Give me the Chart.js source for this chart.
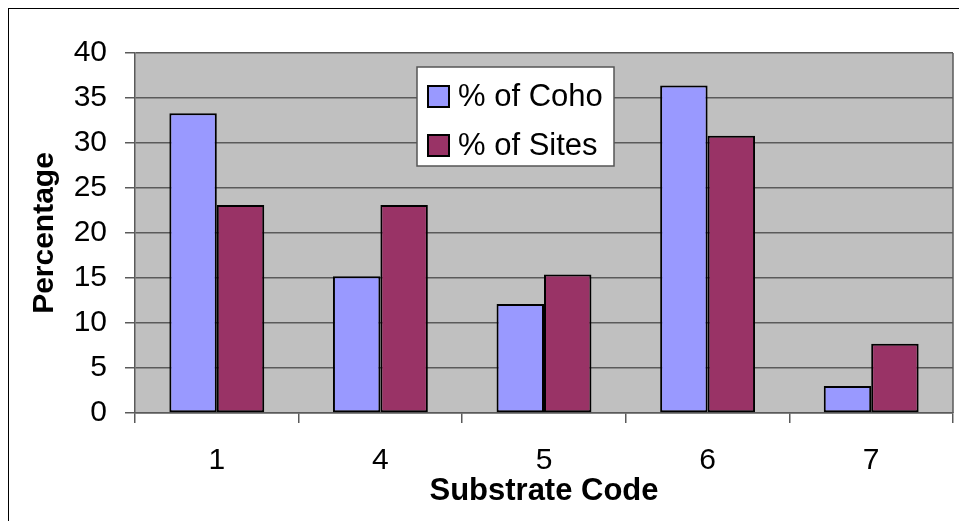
<!DOCTYPE html>
<html>
<head>
<meta charset="utf-8">
<script src="https://cdn.jsdelivr.net/npm/chart.js@4.4.0/dist/chart.umd.min.js"></script>
<style>
  html, body { margin: 0; padding: 0; background: #fff; }
  #wrap { width: 959px; height: 521px; }
</style>
</head>
<body>
<div id="wrap"><canvas id="grafico"></canvas></div>
<script>
const categorias = ['1', '4', '5', '6', '7'];
const coho = [33.3, 15.2, 12.1, 36.4, 3.0];
const sitios = [23.1, 23.1, 15.4, 30.8, 7.7];
const etiquetas = ['% of Coho', '% of Sites'];

const fuente = 'Arial, "Liberation Sans", sans-serif';
const colorRejilla = '#5a5a5a';

// fondo gris del area del grafico y marco exterior
const fondo = {
  id: 'fondo',
  beforeDraw(chart) {
    const { ctx, chartArea: a } = chart;
    ctx.save();
    ctx.strokeStyle = '#000';
    ctx.lineWidth = 1;
    ctx.strokeRect(8.5, 8.5, 1000, 600);
    ctx.fillStyle = '#c0c0c0';
    ctx.fillRect(a.left, a.top, a.right - a.left, a.bottom - a.top);
    ctx.restore();
  },
  afterDatasetsDraw(chart) {
    const { ctx, chartArea: a } = chart;
    ctx.save();
    ctx.strokeStyle = colorRejilla;
    ctx.lineWidth = 1.5;
    ctx.beginPath();
    ctx.moveTo(a.right, a.top);
    ctx.lineTo(a.right, a.bottom);
    ctx.stroke();
    ctx.restore();
  }
};

// leyenda dentro del area del grafico
const leyenda = {
  id: 'leyenda',
  afterDraw(chart) {
    const { ctx } = chart;
    const x = 417, y = 67, w = 197, h = 99;
    ctx.save();
    ctx.fillStyle = '#fff';
    ctx.fillRect(x, y, w, h);
    ctx.strokeStyle = '#555';
    ctx.lineWidth = 1.5;
    ctx.strokeRect(x, y, w, h);
    ctx.font = '31px ' + fuente;
    ctx.textBaseline = 'middle';
    chart.data.datasets.forEach((ds, i) => {
      const cy = y + 29 + i * 49;
      ctx.fillStyle = ds.backgroundColor;
      ctx.fillRect(x + 11, cy - 10, 21, 21);
      ctx.strokeStyle = '#000';
      ctx.lineWidth = 2;
      ctx.strokeRect(x + 11, cy - 10, 21, 21);
      ctx.fillStyle = '#000';
      ctx.fillText(ds.label, x + 41, cy + 1);
    });
    ctx.restore();
  }
};

new Chart(document.getElementById('grafico'), {
  type: 'bar',
  data: {
    labels: categorias,
    datasets: [
      {
        label: etiquetas[0],
        data: coho,
        backgroundColor: '#9999ff',
        borderColor: '#000',
        borderWidth: 2,
        borderSkipped: false
      },
      {
        label: etiquetas[1],
        data: sitios,
        backgroundColor: '#993366',
        borderColor: '#000',
        borderWidth: 2,
        borderSkipped: false
      }
    ]
  },
  options: {
    responsive: true,
    maintainAspectRatio: false,
    animation: false,
    layout: { padding: { left: 0, right: 6, top: 53, bottom: 0 } },
    datasets: { bar: { categoryPercentage: 0.58, barPercentage: 1 } },
    plugins: {
      legend: { display: false },
      tooltip: { enabled: false }
    },
    scales: {
      x: {
        offset: true,
        grid: {
          offset: true,
          drawOnChartArea: false,
          color: colorRejilla,
          lineWidth: 1.5,
          tickLength: 10
        },
        border: { color: colorRejilla, width: 1.5 },
        ticks: { color: '#000', font: { family: fuente, size: 30 }, padding: 20 },
        title: {
          display: true,
          text: 'Substrate Code',
          color: '#000',
          font: { family: fuente, size: 31, weight: 'bold' },
          padding: { top: 0, bottom: 11 }
        },
        afterFit(scale) { scale.height = 108; }
      },
      y: {
        min: 0,
        max: 40,
        ticks: { stepSize: 5, color: '#000', font: { family: fuente, size: 30 }, padding: 18 },
        grid: { color: colorRejilla, lineWidth: 1.5, tickLength: 10 },
        border: { color: colorRejilla, width: 1.5 },
        title: {
          display: true,
          text: 'Percentage',
          color: '#000',
          font: { family: fuente, size: 30, weight: 'bold' },
          padding: { top: 27, bottom: 0 }
        },
        afterFit(scale) { scale.width = 135; }
      }
    }
  },
  plugins: [fondo, leyenda]
});
</script>
</body>
</html>
